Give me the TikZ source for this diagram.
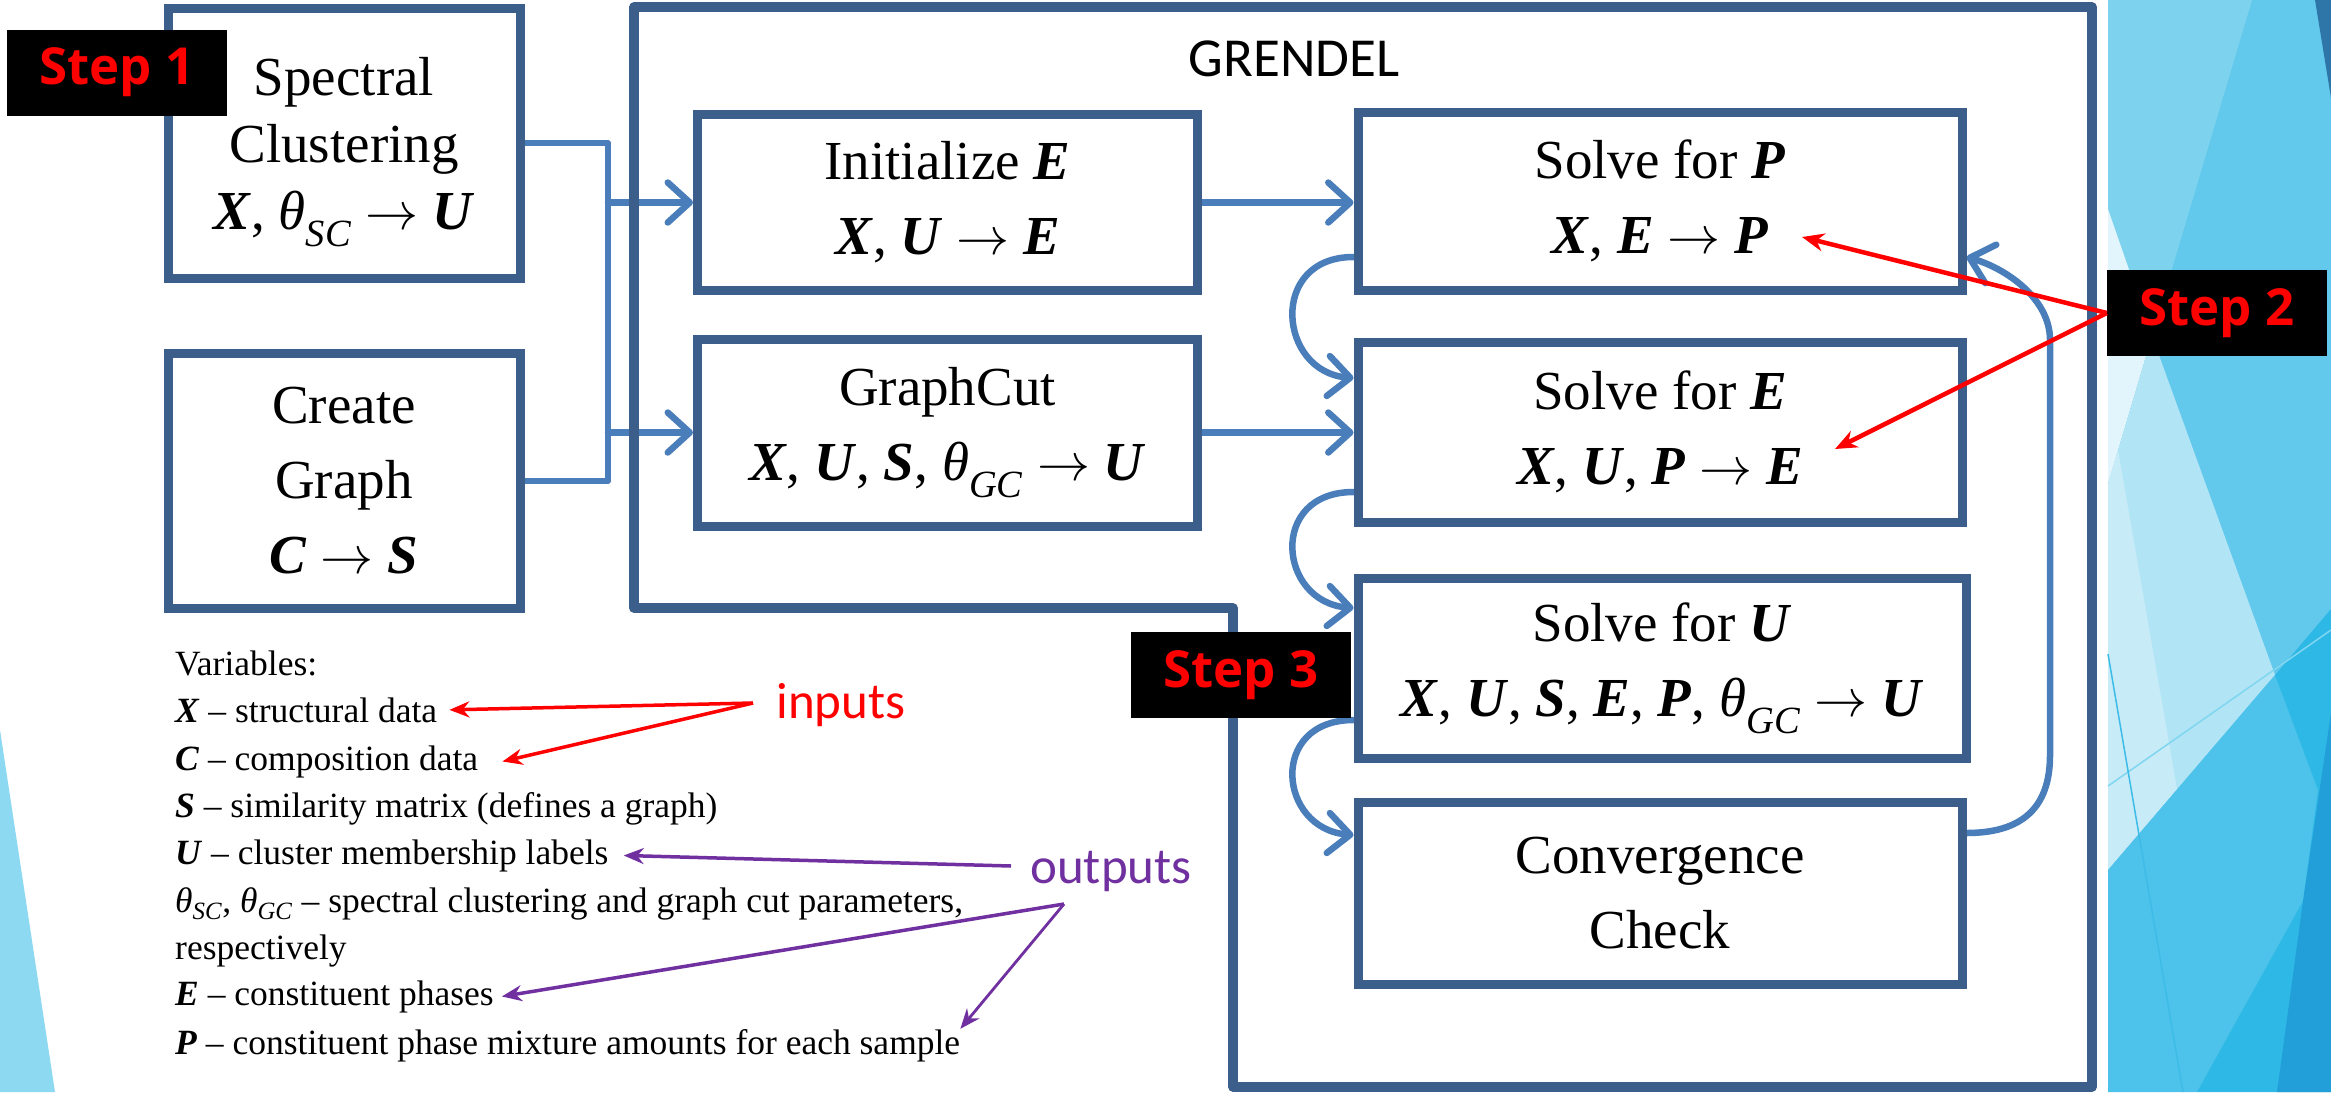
\documentclass[tikz,border=0pt]{standalone}
\usepackage{fontspec}
\usepackage{graphicx}
\setmainfont{Liberation Serif}
\newfontfamily\calib{Carlito}
\newfontfamily\stepf{Open Sans}
\usetikzlibrary{arrows.meta,calc}
\definecolor{boxcol}{HTML}{3B5E8B}
\definecolor{concol}{HTML}{4A7EBB}
\definecolor{purp}{HTML}{7030A0}
\definecolor{stepred}{HTML}{FF0000}
\definecolor{bgA}{HTML}{62C8EC}
\definecolor{bgB}{HTML}{7DD3EE}
\definecolor{bgC}{HTML}{E3F5FC}
\definecolor{bgD}{HTML}{B1E4F5}
\definecolor{bgE}{HTML}{C8EBF8}
\definecolor{bgF}{HTML}{4DC2EA}
\definecolor{bgG}{HTML}{2EB8E6}
\definecolor{bgH}{HTML}{229FD8}
\definecolor{bgI}{HTML}{2E75A8}
\definecolor{bgJ}{HTML}{8DD9F1}
\definecolor{bgK}{HTML}{7FD6F0}
\definecolor{bgL}{HTML}{3DBCE8}
\pgfdeclarelayer{bg}
\pgfdeclarelayer{conn}
\pgfsetlayers{bg,conn,main}
\newcommand\bv[1]{\textbf{\textit{#1}}}
\newcommand\thsub[1]{\textit{θ}\textsubscript{\textit{#1}}}
\newcommand\arr{\scalebox{5.3}{\fontsize{10}{12}\selectfont$\rightarrow$}}
\tikzset{
 blk/.style={draw=boxcol, line width=9pt, inner sep=0pt, align=center, font=\fontsize{55}{75}\selectfont},
 conn/.style={draw=concol, line width=6.5pt, line cap=round, line join=round},
 carr/.style={conn, -{Straight Barb[length=22pt,width=40pt,round]}},
 steplbl/.style={fill=black, text=stepred, font=\stepf\bfseries\fontsize{51}{60}\selectfont, minimum width=220pt, minimum height=86pt, inner sep=0pt},
 leg/.style={anchor=base west, inner sep=0pt, font=\fontsize{35.5}{47}\selectfont},
 redarr/.style={draw=stepred, line width=4.5pt, -{Stealth[length=22pt,width=18pt]}},
 redarrs/.style={draw=stepred, line width=3.5pt, -{Stealth[length=20pt,width=16pt]}},
 purarr/.style={draw=purp, line width=3.5pt, -{Stealth[length=20pt,width=16pt]}},
 lbl/.style={inner sep=0pt, anchor=base},
}
\begin{document}
\begin{tikzpicture}[x=1pt,y=-1pt]
\useasboundingbox (0,0) rectangle (2331,1092);
% background
\begin{pgfonlayer}{bg}
\fill[white] (0,0) rectangle (2331,1092);
\fill[bgJ] (0,730) -- (55,1092) -- (0,1092) -- cycle;
\fill[bgA] (2108,0) rectangle (2331,1092);
\fill[bgB] (2108,0) -- (2252,0) -- (2152,336) -- (2108,209) -- cycle;
\fill[bgC] (2108,209) -- (2152,336) -- (2108,484) -- cycle;
\fill[bgD] (2152,336) -- (2275,675) -- (2108,870) -- (2108,484) -- cycle;
\fill[bgE] (2118,450) -- (2177,789) -- (2108,870) -- (2108,484) -- cycle;
\fill[bgF] (2108,870) -- (2275,675) -- (2318,790) -- (2303,901) -- (2197,1092) -- (2108,1092) -- cycle;
\fill[bgG] (2275,675) -- (2331,609) -- (2331,1092) -- (2197,1092) -- (2303,901) -- (2318,790) -- cycle;
\fill[bgH] (2331,713) -- (2303,901) -- (2277,1092) -- (2331,1092) -- cycle;
\fill[bgI] (2315,0) -- (2331,0) -- (2331,98) -- cycle;
\draw[bgK, line width=1.5pt] (2108,786) -- (2331,630);
\draw[bgL, line width=1.5pt] (2108,654) -- (2183,1092);
\end{pgfonlayer}

% boxes
\node[blk, minimum width=352pt, minimum height=270pt, font=\fontsize{55}{67}\selectfont] (spec) at (344,143)
  {\rule{0pt}{56pt}Spectral\\Clustering\\\bv{X}, \thsub{SC} \arr{} \bv{U}};
\node[blk, minimum width=352pt, minimum height=255pt] (cg) at (344,480.5)
  {Create\\Graph\\\bv{C} \arr{} \bv{S}};
\node[blk, minimum width=500pt, minimum height=176pt] (init) at (947.5,202.5)
  {Initialize \bv{E}\\\bv{X}, \bv{U} \arr{} \bv{E}};
\node[blk, minimum width=500pt, minimum height=187pt] (gc) at (947.5,432.5)
  {GraphCut\\\bv{X}, \bv{U}, \bv{S}, \thsub{GC} \arr{} \bv{U}};
\node[blk, minimum width=604pt, minimum height=178pt] (sP) at (1660,201)
  {Solve for \bv{P}\\\bv{X}, \bv{E} \arr{} \bv{P}};
\node[blk, minimum width=604pt, minimum height=180pt] (sE) at (1660,432)
  {Solve for \bv{E}\\\bv{X}, \bv{U}, \bv{P} \arr{} \bv{E}};
\node[blk, minimum width=608pt, minimum height=180pt] (sU) at (1662,668)
  {Solve for \bv{U}\\\bv{X}, \bv{U}, \bv{S}, \bv{E}, \bv{P}, \thsub{GC} \arr{} \bv{U}};
\node[blk, minimum width=604pt, minimum height=182pt] (cc) at (1660,893)
  {Convergence\\Check};

% GRENDEL outline
\draw[boxcol, line width=9.5pt, line join=round] (634,7) -- (2092,7) -- (2092,1087) -- (1233,1087) -- (1233,608) -- (634,608) -- cycle;
\node[lbl, font=\calib\fontsize{55}{60}\selectfont] (gtitle) at (1294,76) {GRENDEL};

% connectors
\coordinate (j1) at (608,143);
\coordinate (j2) at (608,481);
\begin{pgfonlayer}{conn}
\draw[conn] (spec.east |- j1) -- (j1) -- (j2) -- (cg.east |- j2);
\draw[carr] (j1 |- init.west) -- (init.west);
\draw[carr] (j1 |- gc.west) -- (gc.west);
\draw[carr] (init.east) -- (sP.west |- init.east);
\draw[carr] (gc.east) -- (sE.west |- gc.east);
\draw[carr] (sP.west |- 0,257) .. controls (1268,257) and (1278,372) .. (sE.west |- 0,378);
\draw[carr] (sE.west |- 0,492) .. controls (1268,492) and (1278,602) .. (sU.west |- 0,608);
\draw[carr] (sU.west |- 0,720) .. controls (1268,720) and (1278,829) .. (cc.west |- 0,835);
\draw[carr] (cc.east |- 0,833) .. controls (2030,833) and (2050,800) .. (2050,755) -- (2050,340) .. controls (2050,298) and (2005,268) .. (sP.east |- 0,257);
\end{pgfonlayer}

% step labels
\node[steplbl] (st1) at (117,72.5) {Step 1};
\node[steplbl] (st2) at (2217,313) {Step 2};
\node[steplbl] (st3) at (1241,675) {Step 3};
\coordinate (tP) at (1802,237);
\coordinate (tE) at (1835,449);
\draw[redarr] (st2.west) -- (tP);
\draw[redarr] (st2.west) -- (tE);

% legend
\node[leg] (leg0) at (175,675) {Variables:};
\node[leg] (leg1) at (175,722) {\bv{X} – structural data};
\node[leg] (leg2) at (175,770) {\bv{C} – composition data};
\node[leg] (leg3) at (175,817) {\bv{S} – similarity matrix (defines a graph)};
\node[leg] (leg4) at (175,864) {\bv{U} – cluster membership labels};
\node[leg] (leg5) at (175,912) {\thsub{SC}, \thsub{GC} – spectral clustering and graph cut parameters,};
\node[leg] (leg6) at (175,959) {respectively};
\node[leg] (leg7) at (175,1005) {\bv{E} – constituent phases};
\node[leg] (leg8) at (175,1054) {\bv{P} – constituent phase mixture amounts for each sample};

\node[lbl, text=stepred, font=\calib\fontsize{51}{60}\selectfont] (inputs) at (841,718) {inputs};
\node[lbl, text=purp, font=\calib\fontsize{51}{60}\selectfont] (outputs) at (1111,883) {outputs};
\coordinate (inp) at (753,703);
\coordinate (out1) at (1011,866);
\coordinate (out2) at (1064,904);
\draw[redarrs] (inp) -- ([xshift=12pt]leg1.east);
\draw[redarrs] (inp) -- ([xshift=24pt]leg2.east);
\draw[purarr] (out1) -- ([xshift=15pt]leg4.east);
\draw[purarr] (out2) -- ([xshift=8pt]leg7.east);
\draw[purarr, line width=2.8pt] (out2) -- (leg8.north east);
\end{tikzpicture}
\end{document}
